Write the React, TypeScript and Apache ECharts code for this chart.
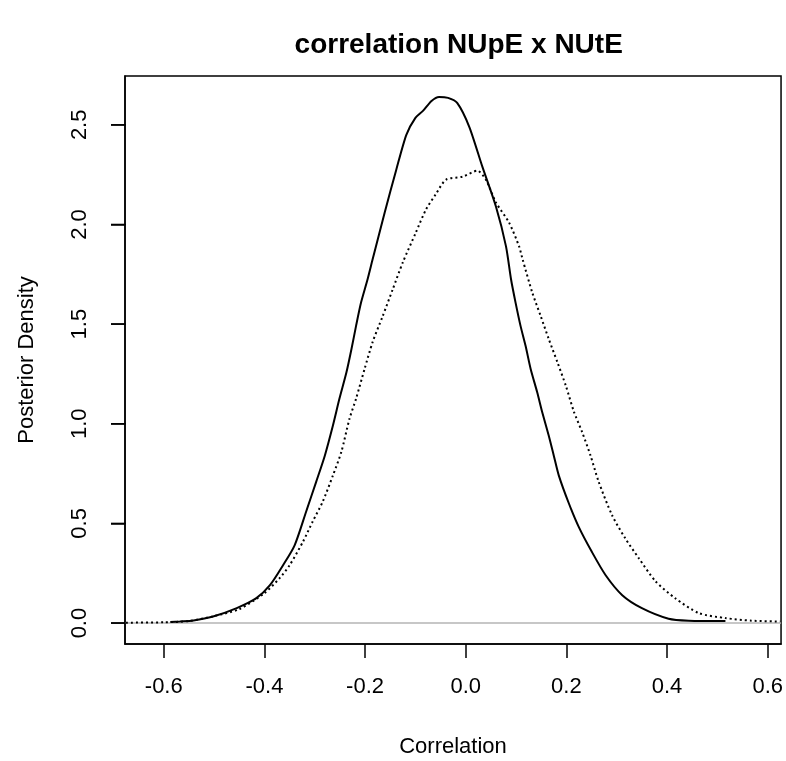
import React, { useEffect, useRef } from "react";
import * as echarts from "echarts";

// Posterior density of the correlation, two chains/models
const solidX = [-0.587, -0.568, -0.541, -0.502, -0.455, -0.416, -0.389, -0.363, -0.34, -0.317, -0.297, -0.28, -0.264, -0.251, -0.237, -0.227, -0.218, -0.208, -0.195, -0.185, -0.161, -0.138, -0.118, -0.1, -0.085, -0.068, -0.053, -0.035, -0.017, 0.007, 0.033, 0.06, 0.08, 0.09, 0.099, 0.109, 0.119, 0.129, 0.142, 0.152, 0.165, 0.175, 0.185, 0.205, 0.225, 0.25, 0.278, 0.311, 0.35, 0.403, 0.443, 0.516];
const solidY = [0.005, 0.008, 0.013, 0.033, 0.075, 0.125, 0.19, 0.29, 0.39, 0.56, 0.71, 0.84, 0.99, 1.125, 1.258, 1.375, 1.49, 1.608, 1.725, 1.825, 2.06, 2.275, 2.45, 2.535, 2.57, 2.62, 2.64, 2.635, 2.61, 2.49, 2.29, 2.09, 1.89, 1.725, 1.608, 1.49, 1.39, 1.275, 1.158, 1.058, 0.94, 0.84, 0.74, 0.6, 0.48, 0.36, 0.24, 0.14, 0.075, 0.022, 0.012, 0.01];

const dottedX = [-0.675, -0.6, -0.55, -0.5, -0.45, -0.4, -0.37, -0.35, -0.323, -0.304, -0.284, -0.264, -0.247, -0.231, -0.218, -0.201, -0.185, -0.165, -0.145, -0.125, -0.099, -0.079, -0.06, -0.039, -0.006, 0.023, 0.04, 0.06, 0.086, 0.106, 0.113, 0.132, 0.149, 0.165, 0.182, 0.199, 0.215, 0.231, 0.248, 0.264, 0.291, 0.317, 0.344, 0.377, 0.416, 0.463, 0.516, 0.568, 0.625];
const dottedY = [0.002, 0.004, 0.01, 0.035, 0.07, 0.15, 0.225, 0.29, 0.41, 0.51, 0.61, 0.74, 0.86, 1.025, 1.125, 1.275, 1.41, 1.54, 1.675, 1.81, 1.96, 2.075, 2.15, 2.225, 2.24, 2.27, 2.225, 2.11, 2.01, 1.89, 1.825, 1.66, 1.54, 1.425, 1.31, 1.19, 1.06, 0.96, 0.84, 0.71, 0.54, 0.425, 0.325, 0.21, 0.125, 0.05, 0.025, 0.012, 0.008];

const xTicks = [-0.6, -0.4, -0.2, 0.0, 0.2, 0.4, 0.6];
const yTicks = [0.0, 0.5, 1.0, 1.5, 2.0, 2.5];

const titleText = "correlation NUpE x NUtE";
const xName = "Correlation";
const yName = "Posterior Density";

const X_MIN = -0.677;
const X_MAX = 0.6265;
const Y_MIN = -0.105;
const Y_MAX = 2.745;

const FONT = "Liberation Sans, Arial, sans-serif";

export default function App() {
  const ref = useRef<HTMLDivElement>(null);
  useEffect(() => {
    if (!ref.current) return;
    const chart = echarts.init(ref.current, undefined, { renderer: "svg" });
    const solid = solidX.map((x, i) => [x, solidY[i]]);
    const dotted = dottedX.map((x, i) => [x, dottedY[i]]);
    chart.setOption({
      animation: false,
      title: {
        text: titleText,
        left: 453.7,
        top: 24,
        textAlign: "center",
        textStyle: { fontSize: 28, fontWeight: "bold", color: "#000", fontFamily: FONT },
      },
      grid: {
        left: 125,
        right: 3.5,
        top: 76,
        bottom: 115,
        show: true,
        borderColor: "#000",
        borderWidth: 1.5,
      },
      xAxis: {
        type: "value",
        min: X_MIN,
        max: X_MAX,
        name: xName,
        nameLocation: "middle",
        nameGap: 90,
        nameTextStyle: { fontSize: 22, color: "#000", fontFamily: FONT },
        splitLine: { show: false },
        axisLine: { show: true, onZero: false, lineStyle: { color: "#000", width: 1.5 } },
        axisTick: {
          show: true,
          length: 14,
          customValues: xTicks,
          lineStyle: { color: "#000", width: 1.5 },
        },
        axisLabel: {
          customValues: xTicks,
          formatter: (v: number) => v.toFixed(1),
          color: "#000",
          fontSize: 22,
          fontFamily: FONT,
          margin: 30,
        },
      },
      yAxis: {
        type: "value",
        min: Y_MIN,
        max: Y_MAX,
        name: yName,
        nameLocation: "middle",
        nameGap: 89,
        nameRotate: 90,
        nameTextStyle: { fontSize: 22, color: "#000", fontFamily: FONT },
        splitLine: { show: false },
        axisLine: { show: true, onZero: false, lineStyle: { color: "#000", width: 1.5 } },
        axisTick: {
          show: true,
          length: 14,
          customValues: yTicks,
          lineStyle: { color: "#000", width: 1.5 },
        },
        axisLabel: {
          customValues: yTicks,
          formatter: (v: number) => v.toFixed(1),
          color: "#000",
          fontSize: 22,
          fontFamily: FONT,
          rotate: 90,
          margin: 36,
        },
      },
      series: [
        {
          type: "line",
          data: [[X_MIN, 0], [X_MAX, 0]],
          showSymbol: false,
          silent: true,
          lineStyle: { color: "#b4b4b4", width: 1.5 },
          z: 2,
        },
        {
          type: "line",
          data: solid,
          showSymbol: false,
          smooth: 0.25,
          lineStyle: { color: "#000", width: 2, type: "solid" },
          z: 3,
        },
        {
          type: "line",
          data: dotted,
          showSymbol: false,
          smooth: 0.25,
          lineStyle: { color: "#000", width: 2, type: [2, 3] },
          z: 3,
        },
        {
          type: "custom",
          clip: false,
          z: 10,
          data: yTicks.map((v) => [X_MIN, v]),
          renderItem: (_p: any, api: any) => {
            const p = api.coord([api.value(0), api.value(1)]);
            return {
              type: "line",
              shape: { x1: p[0] - 14, y1: p[1], x2: p[0] + 1, y2: p[1] },
              style: { stroke: "#000", lineWidth: 1.5 },
            };
          },
        },
      ],
    });
    return () => chart.dispose();
  }, []);
  return (
    <div
      ref={ref}
      style={{ position: "fixed", left: 0, top: 0, width: 786, height: 761 }}
    />
  );
}
